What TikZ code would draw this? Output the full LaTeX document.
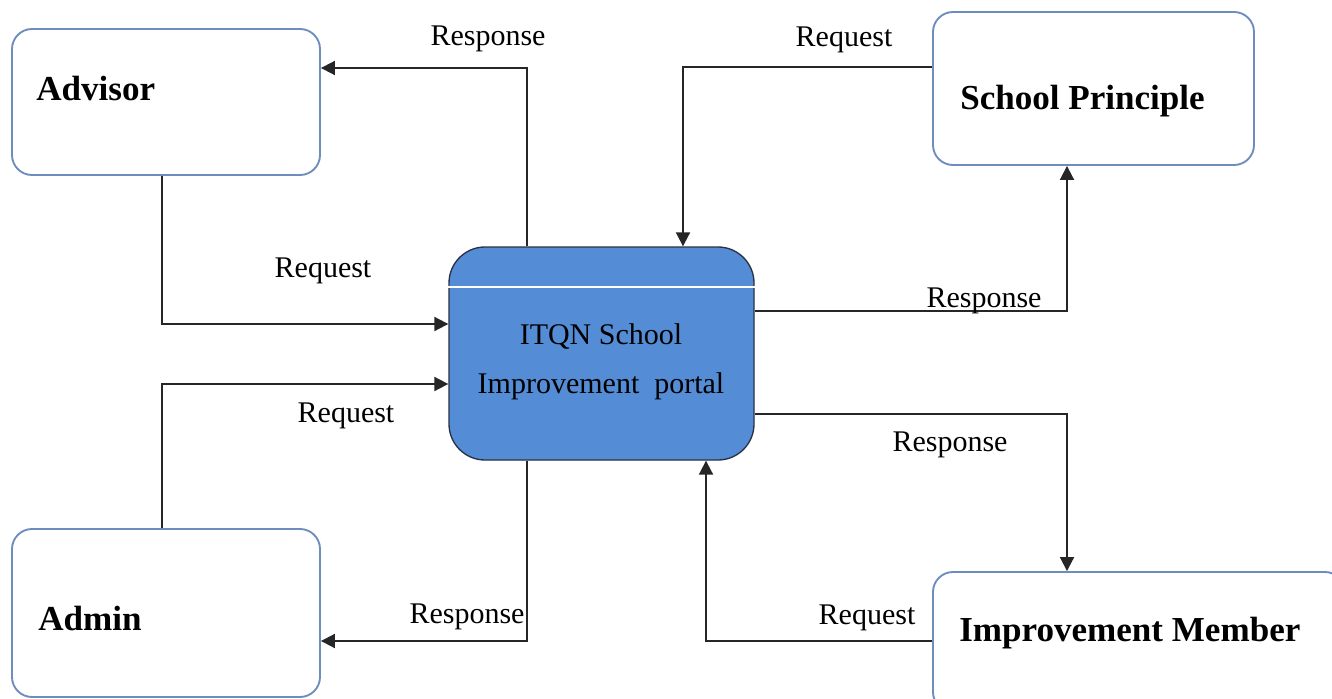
\documentclass[tikz,border=0pt]{standalone}
\usepackage{fontspec}
\setmainfont{Liberation Serif}
\usetikzlibrary{arrows.meta}
\definecolor{boxline}{RGB}{110,140,190}
\definecolor{portal}{RGB}{84,141,213}
\definecolor{portalline}{RGB}{40,50,70}
\begin{document}
\begin{tikzpicture}[x=0.75pt,y=-0.75pt,
  entity/.style={draw=boxline,line width=1.4pt,rounded corners=15pt,fill=white,inner sep=0pt},
  enttext/.style={anchor=west,inner sep=0pt,font=\fontsize{26.3}{30}\selectfont\bfseries},
  lbl/.style={inner sep=0pt,font=\fontsize{22.5}{27}\selectfont},
  flow/.style={draw=black!85,line width=1.4pt,-{Triangle[length=10.5pt,width=10.5pt]}}]
\useasboundingbox (0,0) rectangle (1332,699);
\clip (0,0) rectangle (1332,699);
\fill[white] (0,0) rectangle (1332,699);

% boxes
\node[entity,minimum width=231pt,minimum height=109.5pt] (adv) at (166,102) {};
\node[entity,minimum width=231pt,minimum height=126pt] (adm) at (166,613) {};
\node[entity,minimum width=240.75pt,minimum height=114.75pt] (sp) at (1093.5,88.5) {};
\node[entity,minimum width=309pt,minimum height=105pt] (im) at (1139,642) {};
\node[draw=portalline,line width=1pt,fill=portal,rounded corners=27pt,inner sep=0pt,
      minimum width=228.75pt,minimum height=159.75pt] (cen) at (601.5,353.5) {};
\coordinate (wl) at (0,287);
\draw[white,line width=1pt] (cen.west |- wl) -- (cen.east |- wl);

% box texts
\node[enttext] (tadv) at (36,89) {Advisor};
\node[enttext] (tadm) at (38,618) {Admin};
\node[enttext] (tsp) at (960,101) {School Principle};
\node[enttext] (tim) at (959,633) {Improvement Member};
\node[inner sep=0pt,align=center,font=\fontsize{22.5}{36.75}\selectfont] (tcen) at (601,362)
  {ITQN School\\Improvement\ \ portal};

% connectors
\coordinate (c1) at (162,324);
\coordinate (c2) at (162,384);
\coordinate (c3) at (527,68);
\coordinate (c4) at (527,641);
\coordinate (c5) at (683,67);
\coordinate (c6) at (1067,311);
\coordinate (c7) at (1067,414);
\coordinate (c8) at (706,641);
\draw[flow] (adv.south -| c1) |- (cen.west |- c1);
\draw[flow] (adm.north -| c2) |- (cen.west |- c2);
\draw[flow] (cen.north -| c3) |- (adv.east |- c3);
\draw[flow] (cen.south -| c4) |- (adm.east |- c4);
\draw[flow] (sp.west |- c5) -| (cen.north -| c5);
\draw[flow] (cen.east |- c6) -| (sp.south -| c6);
\draw[flow] (cen.east |- c7) -| (im.north -| c7);
\draw[flow] (im.west |- c8) -| (cen.south -| c8);

% labels
\node[lbl] (l1) at (323,271) {Request};
\node[lbl] (l2) at (346,416) {Request};
\node[lbl] (l3) at (488,39) {Response};
\node[lbl] (l4) at (467,617) {Response};
\node[lbl] (l5) at (844,40) {Request};
\node[lbl] (l6) at (984,301) {Response};
\node[lbl] (l7) at (950,445) {Response};
\node[lbl] (l8) at (867,618) {Request};
\end{tikzpicture}
\end{document}
